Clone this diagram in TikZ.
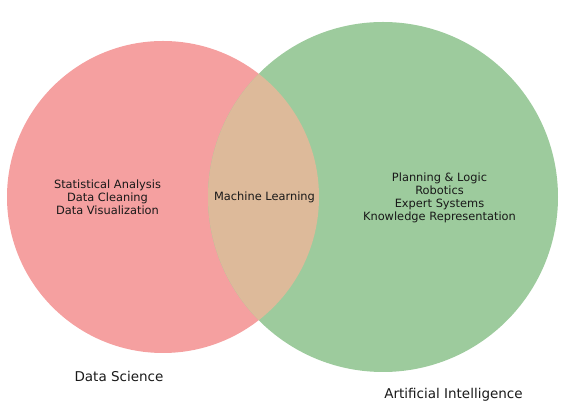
\documentclass[tikz,border=0pt]{standalone}
\usepackage{fontspec}
\setmainfont{DejaVu Sans}
\definecolor{dsred}{HTML}{F5A0A0}
\definecolor{aigreen}{HTML}{9DCB9D}
\definecolor{mlmix}{HTML}{DDBA9A}
\begin{document}
\begin{tikzpicture}[x=1pt,y=1pt,
  lbl/.style={font=\fontsize{11.4}{13.2}\selectfont, align=center, text=black!90, inner sep=0pt},
  setlbl/.style={font=\fontsize{13.5}{16}\selectfont, text=black!90, inner sep=0pt}]
\useasboundingbox (0,0) rectangle (566,414);
\fill[dsred] (163,217) circle (156);
\fill[aigreen] (383,217) circle (175);
\begin{scope}
  \clip (163,217) circle (156);
  \fill[mlmix] (383,217) circle (175);
\end{scope}
\node[lbl] (ds) at (107.5,216.5) {Statistical Analysis\\Data Cleaning\\Data Visualization};
\node[lbl] (ml) at (264.5,216.5) {Machine Learning};
\node[lbl] (ai) at (439.5,216) {Planning \& Logic\\Robotics\\Expert Systems\\Knowledge Representation};
\node[setlbl] (dsl) at (119,38) {Data Science};
\node[setlbl] (ail) at (453.5,19) {Artificial Intelligence};
\end{tikzpicture}
\end{document}
